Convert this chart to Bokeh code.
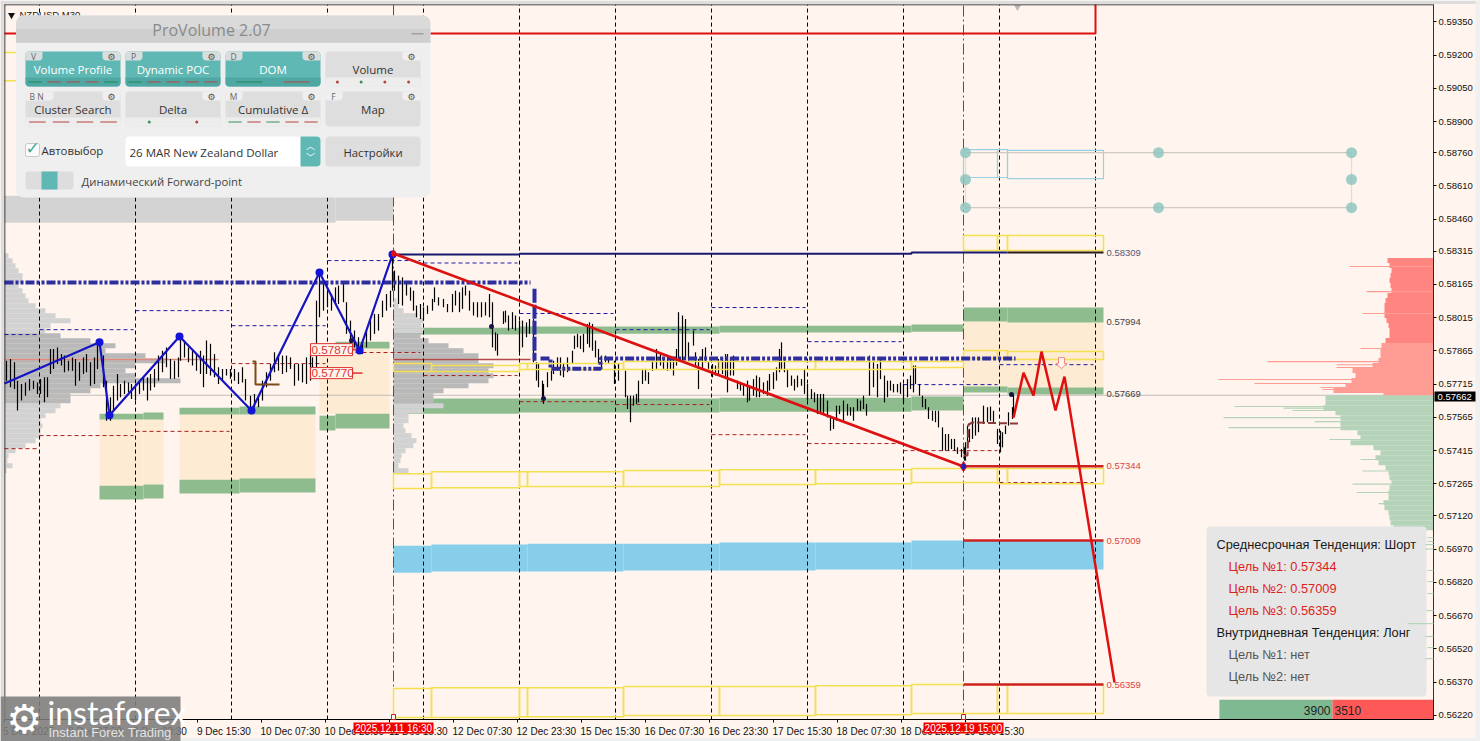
from bokeh.plotting import figure
from bokeh.models import Range1d, FixedTicker, NumeralTickFormatter, BoxAnnotation, Label
from bokeh.core.properties import value
from bokeh.embed import file_html
from bokeh.resources import INLINE
import numpy as np

# ---------- price axis / time axis
PRICE_TICKS = [0.59350,0.59200,0.59050,0.58900,0.58760,0.58610,0.58460,0.58315,0.58165,0.58015,0.57865,
               0.57715,0.57565,0.57415,0.57265,0.57120,0.56970,0.56820,0.56670,0.56520,0.56370,0.56220]
TIME_TICKS = [4,68,133,197,261,325,389,453,517,581,645,709,773,837,901,965]
TIME_LABELS = ["5 Dec 2025","8 Dec 07:30","8 Dec 23:30","9 Dec 15:30","10 Dec 07:30","10 Dec 23:30","11 Dec 15:30",
               "12 Dec 07:30","12 Dec 23:30","15 Dec 15:30","16 Dec 07:30","16 Dec 23:30","17 Dec 15:30",
               "18 Dec 07:30","18 Dec 23:30","19 Dec 15:30"]
DAY_LINES = [39,135,231,327,423,519,615,711,807,903,999,1095]

# ---------- price bars
BAR_POS = [6,10,14,17,21,25,29,33,37,40, 44,47,50,53,57,61,64,68,72,75, 79,83,86,90,94,97,103,106,110,113,
 117,120,124,128,131,135,139,143,147,150, 154,158,162,166,170,174,178,180,184,188, 192,196,200,203,206,210,214,218,222,226,
 230,234,238,242,245,250,254,258,262,266, 270,274,278,282,286,290,294,298,302,306, 310,312,316,319,323,327,331,335,338,343,
 346,350,354,358,362,366,370,374,378,382, 386,390,392,
 394,398,402,406,410,413,416,420,423,427, 432,434,438,443,447,452,455,459,462,465, 469,473,477,481,485,489,492,495,497,503,
 505,508,512,515,519,522,526,529,533,536, 538,542,543,547,551,553,557,560,563,567, 572,574,577,580,583,587,589,592,595,598,
 601,605,608,614,618,625,627,630,633,636, 638,642,645,648,652,656,660,663,667,670, 673,676,678,682,685,688,
 693,695,698,702,705,708,712,715,718,722, 725,727,730,733,737,740,743,747,749,753, 756,759,763,767,769,773,776,779,781,784,
 787,791,794,797,801,804,807,811,814,817, 820,823,827,830,833,836,839,843,847,850, 853,857,860,863,866,869,873,877,880,884,
 887,890,893,897,900,903,907,910,913,915, 919,922,925,928,932,935,938,942,945,948, 951,954,957,961,964,
 965,967,969,972,975,978,983,987,990,993, 997,1000,1002,1005,1008,1012,1013]
BAR_HIGH = [.57821,.57829,.57814,.57731,.57716,.57723,.57738,.57731,.57723,.57738,
 .57746,.57746,.57874,.57874,.57881,.57851,.57844,.57821,.57836,.57829,
 .57814,.57836,.57851,.57814,.57836,.57904,.57844,.57731,.57656,.57708,
 .57761,.57716,.57731,.57723,.57716,.57716,.57731,.57746,.57746,.57761,
 .57784,.57844,.57866,.57881,.57829,.57821,.57836,.57927,.57912,.57881,
 .57866,.57851,.57866,.57844,.57912,.57897,.57851,.57791,.57784,.57784,
 .57784,.57784,.57769,.57791,.57738,.57663,.57671,.57663,.57731,.57769,
 .57806,.57859,.57851,.57844,.57844,.57836,.57806,.57806,.57806,.57836,
 .57851,.57836,.58092,.58220,.58167,.58137,.58122,.58152,.58160,.58167,
 .58085,.58002,.57957,.57927,.57912,.57957,.58002,.58032,.58032,.58092,
 .58122,.58137,.58303,
 .58228,.58205,.58197,.58167,.58152,.58137,.58070,.58077,.58062,.58070,
 .58100,.58152,.58107,.58100,.58077,.58122,.58137,.58130,.58152,.58160,
 .58137,.58085,.58085,.58085,.58085,.58122,.58085,.57949,.57942,.58044,
 .58047,.58025,.58040,.58025,.58002,.58002,.57994,.58009,.58009,.57814,
 .57806,.57731,.57716,.57769,.57776,.57821,.57836,.57836,.57806,.57836,
 .57866,.57934,.57942,.57934,.57942,.57987,.57994,.57987,.57912,.57874,
 .57844,.57844,.57836,.57821,.57806,.57776,.57663,.57663,.57663,.57671,
 .57731,.57784,.57784,.57769,.57821,.57874,.57851,.57829,.57844,.57836,
 .57829,.57874,.58040,.58025,.58009,.57904,
 .57957,.57859,.57829,.57874,.57881,.57814,.57806,.57799,.57829,.57836,
 .57851,.57851,.57836,.57844,.57731,.57723,.57716,.57731,.57708,.57738,
 .57754,.57746,.57723,.57731,.57761,.57769,.57791,.57874,.57904,.57829,
 .57784,.57754,.57738,.57754,.57738,.57784,.57716,.57693,.57678,.57671,
 .57671,.57671,.57641,.57573,.57565,.57618,.57618,.57641,.57626,.57611,
 .57611,.57648,.57641,.57663,.57626,.57844,.57814,.57806,.57836,.57754,
 .57731,.57731,.57716,.57716,.57723,.57716,.57738,.57754,.57799,.57799,
 .57716,.57663,.57648,.57611,.57595,.57595,.57595,.57520,.57490,.57490,
 .57468,.57468,.57430,.57422,.57430,
 .57453,.57528,.57513,.57565,.57565,.57565,.57618,.57611,.57614,.57595,
 .57513,.57505,.57498,.57528,.57588,.57611,.57671]
BAR_LOW = [.57731,.57701,.57693,.57596,.57641,.57663,.57686,.57693,.57671,.57671,
 .57633,.57656,.57761,.57784,.57806,.57799,.57769,.57776,.57776,.57708,
 .57731,.57761,.57769,.57708,.57716,.57784,.57701,.57550,.57550,.57596,
 .57641,.57656,.57671,.57678,.57648,.57641,.57671,.57686,.57641,.57686,
 .57701,.57731,.57769,.57791,.57739,.57739,.57746,.57821,.57836,.57814,
 .57799,.57776,.57761,.57701,.57761,.57754,.57746,.57716,.57731,.57754,
 .57739,.57731,.57716,.57723,.57641,.57611,.57611,.57611,.57641,.57701,
 .57731,.57769,.57776,.57761,.57769,.57784,.57708,.57731,.57723,.57716,
 .57731,.57754,.57791,.58017,.58047,.58062,.58047,.58077,.58077,.58085,
 .57942,.57897,.57881,.57866,.57851,.57881,.57912,.57942,.57957,.58017,
 .58047,.58062,.58137,
 .58137,.58077,.58070,.58115,.58092,.58047,.58017,.58009,.58002,.58032,
 .58047,.58085,.58070,.58062,.58040,.58040,.58070,.58040,.58055,.58115,
 .58047,.58025,.58017,.58017,.58025,.58017,.57881,.57866,.57844,.57987,
 .57994,.57957,.57964,.57957,.57859,.57881,.57927,.57942,.57814,.57731,
 .57701,.57656,.57626,.57701,.57731,.57761,.57776,.57754,.57746,.57769,
 .57806,.57874,.57881,.57874,.57859,.57897,.57881,.57866,.57836,.57806,
 .57784,.57814,.57806,.57716,.57731,.57656,.57603,.57543,.57618,.57626,
 .57633,.57716,.57731,.57716,.57776,.57784,.57799,.57784,.57776,.57784,
 .57754,.57799,.57821,.57821,.57836,.57821,
 .57889,.57799,.57693,.57784,.57814,.57769,.57746,.57754,.57754,.57761,
 .57738,.57678,.57754,.57754,.57693,.57686,.57663,.57633,.57641,.57663,
 .57656,.57656,.57671,.57663,.57686,.57693,.57731,.57769,.57784,.57769,
 .57701,.57708,.57686,.57701,.57708,.57671,.57641,.57648,.57633,.57580,
 .57580,.57580,.57565,.57505,.57513,.57550,.57580,.57550,.57573,.57573,
 .57550,.57595,.57595,.57603,.57573,.57663,.57701,.57656,.57738,.57633,
 .57656,.57686,.57678,.57678,.57671,.57633,.57656,.57693,.57678,.57716,
 .57663,.57611,.57603,.57558,.57550,.57543,.57520,.57415,.57415,.57415,
 .57422,.57415,.57400,.57385,.57370,
 .57370,.57430,.57453,.57468,.57483,.57498,.57535,.57543,.57550,.57543,
 .57445,.57407,.57430,.57490,.57528,.57558,.57580]

# ---------- volume profiles (row volumes; rows are evenly spaced in price)
ROW_STEP = 0.0002257
PROFILE_A_TOP = 0.58295
PROFILE_A = [4,8,11,14,18,18,14,18,21,24,31,41,51,66,46,41,56,86,111,101,141,161,131,121,131,176,96,86,66,66,56,51,41,36,38,36,36,31,21,11,4,3,8,2]
PROFILE_B_TOP = 0.58092
PROFILE_B = [3,5,10,24,30,28,30,27,35,55,70,85,85,100,95,100,95,75,50,40,40,50,30,15,15,10,12,18,23,20,12,8,7,5,15]
ASK_TOP = 0.58273
ASK_VOLS = [46,44,42,43,44,43,42,46,48,49,49,49,47,45,44,44,48,52,53,53,55,61,81,78,82,88,100,50]
ASK_SPIKE_P = [.58246,.58133,.58034,.57876,.57817,.57803,.5779,.57736,.57718,.577,.57691]
ASK_SPIKE_V = [84,67,71,73,166,97,97,215,179,113,111]
BID_TOP = 0.57654
BID_VOLS = [108,108,110,98,93,93,93,76,73,83,60,53,58,55,48,45,44,42,44,45,45,50,49,45,44,43,40]
BID_SPIKE_P = [.57614,.57607,.57596,.57564,.57546,.57519,.57465,.57375,.57323,.57264,.57226,.57176]
BID_SPIKE_V = [199,150,141,210,119,205,104,73,71,81,77,55]
LOW_SPIKE_P = [.57022,.57005,.56991,.56971,.56874,.56824,.5677,.56693,.56634,.56576,.56526,.56476]
LOW_SPIKE_V = [6,6,8,8,6,6,6,7,26,8,6,8]
BID_TOTAL, ASK_TOTAL = 3900, 3510

# ---------- zones (left, right, top price, bottom price)
WHEAT = [(99,143,.57555,.57257),(143,163,.57560,.57262),(179,315,.57578,.57284),(319,389,.57876,.57582),(963,1103,.57998,.57700)]
GREEN = [(99,143,.57582,.57555),(143,163,.57587,.57555),(99,143,.57257,.57194),(143,163,.57262,.57199),
         (179,239,.57609,.57578),(239,315,.57614,.57578),(179,239,.57284,.57221),(239,315,.57289,.57226),
         (319,335,.57894,.57867),(335,389,.57907,.57876),(319,335,.57573,.57506),(335,389,.57582,.57515),
         (393,519,.57970,.57939),(519,719,.57975,.57943),(719,911,.57979,.57948),(911,963,.57984,.57952),
         (393,519,.57650,.57582),(519,719,.57650,.57587),(719,911,.57654,.57591),(911,963,.57659,.57596),
         (963,1007,.58061,.57998),(1007,1103,.58061,.57993),(963,1007,.57704,.57677),(1007,1103,.57700,.57668)]
SKY = [(393,431,.56986,.56864),(431,527,.56991,.56869),(527,623,.56995,.56869),(623,719,.56995,.56874),
       (719,815,.57000,.56874),(815,911,.57000,.56878),(911,1103,.57009,.56878)]
YELLOW = [(393,431,.57311,.57244),(431,519,.57320,.57248),(519,527,.57320,.57253),(527,623,.57320,.57253),(623,719,.57325,.57253),
          (719,815,.57329,.57262),(815,911,.57329,.57266),(911,997,.57334,.57271),(997,1007,.57334,.57266),(1007,1103,.57334,.57266),
          (393,431,.57808,.57772),(431,519,.57799,.57772),(519,527,.57808,.57781),(527,623,.57808,.57781),(623,719,.57817,.57781),
          (719,815,.57817,.57781),(815,911,.57817,.57781),(911,963,.57817,.57790),(963,997,.57867,.57831),(997,1007,.57867,.57831),(1007,1103,.57862,.57826),
          (963,997,.58386,.58318),(997,1007,.58386,.58318),(1007,1103,.58386,.58318),
          (393,431,.56341,.56210),(431,519,.56345,.56210),(519,527,.56345,.56214),(527,623,.56345,.56214),(623,719,.56350,.56219),
          (719,815,.56350,.56219),(815,911,.56354,.56223),(911,997,.56359,.56228),(997,1007,.56359,.56228),(1007,1103,.56359,.56228),
          (4,20,.59212,.59212),(4,20,.59085,.59085)]
BLUE_BOX = [(963,997,.58774,.58648),(997,1007,.58774,.58648),(1007,1103,.58770,.58643)]

# ---------- session high / low dashes (left, right, price)
HIGH_DASH = [(4,39,.57939),(39,133,.57961),(135,229,.58047),(231,325,.57979),(327,420,.58273),(423,517,.58262),(519,613,.58034),
             (615,709,.57961),(711,805,.58061),(807,901,.57907),(903,997,.57713),(999,1093,.57803)]
LOW_DASH = [(4,39,.57424),(39,133,.57483),(135,229,.57502),(231,325,.57808),(327,420,.57858),(423,517,.57754),(519,613,.57636),
            (615,709,.57623),(711,805,.57487),(807,901,.57447),(903,997,.57415),(999,1093,.57271)]

# ---------- swing lines
WAVE_X = [4,99,109,179,251,319,359,392]
WAVE_P = [.57718,.57904,.57575,.57930,.57596,.58219,.57867,.58300]
TREND_X = [393,963]
TREND_P = [.58305,.57343]
PATH_X = [1013,1023,1033,1041,1055,1064,1114]
PATH_P = [.57564,.57767,.57664,.57862,.57596,.57749,.56368]
TARGETS = [.57344,.57009,.56359]
LEVELS = [(.58309,"#555577"),(.57994,"#444444"),(.57669,"#444444")]

BG = "#FFF5EE"
FONT = "Liberation Sans"
UI = "Open Sans"

# chart pane limits inside the full page
x_lo, x_hi = 4, 1433
y_lo, y_hi = .56201, .59428

p = figure(width=1480, height=741, x_range=Range1d(0,1480), y_range=Range1d(.56102,.59447), y_axis_location="right",
           output_backend="svg", toolbar_location=None, min_border_left=0, min_border_top=0, min_border_right=0,
           min_border_bottom=0, background_fill_color=BG, border_fill_color=BG)
p.grid.visible = False
p.outline_line_color = None

ya = p.yaxis[0]
ya.fixed_location = x_hi
ya.ticker = FixedTicker(ticks=PRICE_TICKS)
ya.formatter = NumeralTickFormatter(format="0.00000")
ya.major_label_text_font = FONT
ya.major_label_text_font_size = "9.5px"
ya.major_label_text_color = "#111111"
ya.major_tick_out = 3; ya.major_tick_in = 0
ya.major_label_standoff = 2
ya.minor_tick_out = 0; ya.minor_tick_in = 0
ya.axis_line_color = None

centers = [t + 2.4*len(l) for t, l in zip(TIME_TICKS, TIME_LABELS)]
xa = p.xaxis[0]
xa.fixed_location = y_lo
xa.ticker = FixedTicker(ticks=centers, minor_ticks=TIME_TICKS)
xa.major_label_overrides = {c: l for c, l in zip(centers, TIME_LABELS)}
xa.major_label_text_font = FONT
xa.major_label_text_font_size = "10px"
xa.major_label_text_color = "#111111"
xa.major_tick_out = 0; xa.major_tick_in = 0
xa.minor_tick_out = 3; xa.minor_tick_in = 0
xa.major_label_standoff = 3
xa.axis_line_color = None

def quads(rows, **kw):
    a = np.array(rows, dtype=float)
    p.quad(left=a[:,0], right=a[:,1], top=a[:,2], bottom=a[:,3], **kw)

# gray top band behind panel
quads([(4,335,.58566,.58444),(335,393,.58566,.58453)], fill_color="#D3D3D3", line_color=None)

quads(WHEAT, fill_color="#FDEBD3", line_color=None)
quads(GREEN, fill_color="#8FBC8F", line_color=None)
quads(SKY, fill_color="#87CEEB", line_color=None)

# left profiles
def profile(start, top, vols):
    pr = top - ROW_STEP*np.arange(len(vols))
    v = np.array(vols, dtype=float)
    inner = (pr < .57935) & (pr > .57640)
    p.hbar(y=pr[~inner], left=start, right=start+v[~inner], height=ROW_STEP, fill_color="#D2D2D2", line_color=None)
    p.hbar(y=pr[inner], left=start, right=start+v[inner], height=ROW_STEP, fill_color="#B9B9B9", line_color=None)
profile(4, PROFILE_A_TOP, PROFILE_A)
profile(393, PROFILE_B_TOP, PROFILE_B)
p.segment(x0=[4], x1=[218], y0=[.57826], y1=[.57826], line_color="#E08A80", line_width=1.5)
p.segment(x0=[393], x1=[530], y0=[.57826], y1=[.57826], line_color="#B04A4A", line_width=1.5)

# current price
p.segment(x0=[x_lo], x1=[x_hi], y0=[.57665], y1=[.57665], line_color="#C4BDB8", line_width=1)

# order-book profile
ask_p = ASK_TOP - ROW_STEP*np.arange(len(ASK_VOLS))
bid_p = BID_TOP - ROW_STEP*np.arange(len(BID_VOLS))
a = np.array(ASK_VOLS, dtype=float)
top_part = ask_p > .57900
p.hbar(y=ask_p[top_part], left=x_hi-a[top_part], right=x_hi, height=ROW_STEP, fill_color="#FF8580", line_color=None)
p.hbar(y=ask_p[~top_part], left=x_hi-a[~top_part], right=x_hi, height=ROW_STEP, fill_color="#FF9C94", line_color=None)
p.hbar(y=ASK_SPIKE_P, left=x_hi-np.array(ASK_SPIKE_V), right=x_hi, height=.00005, fill_color="#FF9C94", line_color=None)
p.hbar(y=bid_p, left=x_hi-np.array(BID_VOLS), right=x_hi, height=ROW_STEP, fill_color="#B5D3B8", line_color=None)
p.hbar(y=BID_SPIKE_P, left=x_hi-np.array(BID_SPIKE_V), right=x_hi, height=.00005, fill_color="#B5D3B8", line_color=None)

# vertical day lines
p.segment(x0=DAY_LINES, x1=DAY_LINES, y0=y_lo, y1=y_hi, line_color="#000000", line_dash="4 3", line_width=1)
p.segment(x0=[393,963], x1=[393,963], y0=y_lo, y1=y_hi, line_color="#C8202A", line_dash="11 3 2 3", line_width=1)

# dashes
a = np.array(HIGH_DASH)
p.segment(x0=a[:,0], x1=a[:,1], y0=a[:,2], y1=a[:,2], line_color="#1A1AA6", line_dash="4 3", line_width=1)
a = np.array(LOW_DASH)
p.segment(x0=a[:,0], x1=a[:,1], y0=a[:,2], y1=a[:,2], line_color="#A82020", line_dash="4 3", line_width=1)

# bars
p.segment(x0=BAR_POS, x1=BAR_POS, y0=BAR_LOW, y1=BAR_HIGH, line_color="#000000", line_width=1.2)

# outlined boxes
quads(YELLOW, fill_color=None, line_color="#F5E050", line_width=1.5)
quads(BLUE_BOX, fill_color=None, line_color="#9AD0E2", line_width=1.2)

# top red frame
p.line([4,1095,1095],[.59298,.59298,y_hi], line_color="#E01010", line_width=2)
p.line([393,393],[.59298,y_hi], line_color="#C8202A", line_width=1, line_dash="4 3")
p.scatter([1017],[.59418], marker="inverted_triangle", size=7, fill_color="#BBBBBB", line_color=None)

# tool handles
p.line([965,1351],[.58760,.58760], line_color="#CFCAC5", line_width=1.3)
p.line([965,1351],[.58512,.58512], line_color="#CFCAC5", line_width=1.3)
p.line([965,965],[.58760,.58512], line_color="#E2DDD8", line_width=1.3)
p.line([1351,1351],[.58760,.58512], line_color="#E2DDD8", line_width=1.3)
p.scatter([965,965,965,1158,1158,1351,1351,1351],[.58760,.58639,.58512,.58760,.58512,.58760,.58639,.58512],
          size=11, fill_color="#8FC5BF", fill_alpha=.85, line_color=None)

# dynamic POC
poc = dict(line_color="#2E2E9E", line_width=4, line_dash="9 2 3 2 3 2")
p.line([4,530],[.58174,.58174], **poc)
p.line([534,534],[.58146,.57821], line_color="#2E2E9E", line_width=4, line_dash="14 2")
p.line([540,550,550,600,600,1015],[.57831,.57831,.57785,.57785,.57831,.57831], **poc)

# level lines
p.line([393,519,519,911,911,1007],[.58300,.58300,.58304,.58304,.58309,.58309], line_color="#191970", line_width=2)
p.line([1007,1103],[.58309,.58309], line_color="#2A1A1A", line_width=2)
p.segment(x0=[963]*3, x1=[1103]*3, y0=TARGETS, y1=TARGETS, line_color="#CC2222", line_width=2.5)

# waves
p.line(WAVE_X, WAVE_P, line_color="#1414C4", line_width=2.2)
p.scatter(WAVE_X[1:], WAVE_P[1:], size=8, fill_color="#1414D8", line_color=None)
p.line([252,255,255,279],[.57817,.57817,.57713,.57713], line_color="#7A4A1A", line_width=2)
p.line([963,967,968,972,1018],[.57393,.57393,.57533,.57542,.57537], line_color="#8B3A3A", line_width=2, line_dash="8 3")
p.scatter([491,543,351,1011],[.57975,.5765,.57912,.57668], size=5, fill_color="#15154A", line_color=None)

p.line(TREND_X, TREND_P, line_color="#DD1111", line_width=2.6)
p.scatter([393],[.58305], marker="diamond", size=9, fill_color="#E01010", line_color=None)
p.scatter([963],[.57343], marker="diamond", size=10, fill_color="#2020C0", line_color="#E01010")
p.line(PATH_X, PATH_P, line_color="#E01010", line_width=2.5)
p.patch([1058,1064,1064,1066.5,1061,1055.5,1058],[.57835,.57835,.57808,.57808,.57785,.57808,.57808],
        fill_color=BG, line_color="#F08A80", line_width=1)

# price boxes
quads([(310,352,.57898,.57844),(310,352,.57790,.57740)], fill_color=BG, line_color="#DD3333", line_width=1)
p.segment(x0=[352,352], x1=[356,362], y0=[.57871,.57765], y1=[.57871,.57765], line_color="#DD3333", line_width=1.5)
tf = value(FONT)
p.text([311,311],[.57871,.57765],text=["0.57870","0.57770"],text_font=tf,text_font_size="11.7px",text_color="#DD3333",text_baseline="middle")

# level texts
p.text([1106]*3,TARGETS,text=["%.5f"%t for t in TARGETS],text_font=tf,text_font_size="9.5px",text_color="#DD4444",text_baseline="middle")
p.text([1106]*3,[l[0] for l in LEVELS],text=["%.5f"%l[0] for l in LEVELS],text_font=tf,text_font_size="9.5px",text_color=[l[1] for l in LEVELS],text_baseline="middle")

# instrument label
p.scatter([11],[.59381],marker="inverted_triangle",size=7,fill_color="#111111",line_color=None)
p.text([19],[.59382],text=["NZDUSD,M30"],text_font=tf,text_font_size="9.5px",text_color="#222222",text_baseline="middle")

# bottom balance bar
bid_w = BID_TOTAL*0.029; ask_w = ASK_TOTAL*0.0289
p.quad(left=[1332-bid_w], right=[1332], top=[.56291], bottom=[y_lo], fill_color="#7EB991", line_color=None)
p.quad(left=[1332], right=[1332+ask_w], top=[.56291], bottom=[y_lo], fill_color="#FF5858", line_color=None)
p.text([1330],[.56243],text=[str(BID_TOTAL)],text_font=tf,text_font_size="12px",text_color="#222222",text_align="right",text_baseline="middle")
p.text([1334],[.56243],text=[str(ASK_TOTAL)],text_font=tf,text_font_size="12px",text_color="#222222",text_baseline="middle")

# ---------- canvas-space widgets
def box(l,t,r,b,color,radius=0,alpha=1.0,line=None,level="annotation"):
    p.add_layout(BoxAnnotation(left=l,right=r,top=t,bottom=b,left_units="canvas",right_units="canvas",top_units="canvas",
        bottom_units="canvas",fill_color=color,fill_alpha=alpha,line_color=line,line_alpha=1 if line else 0,border_radius=radius,level=level,editable=False))
def label(x,y,s,size=11.4,color="#333333",align="left",font=UI,style="normal"):
    p.add_layout(Label(x=x,y=y,x_units="canvas",y_units="canvas",text=s,text_font=font,text_font_size=f"{size}px",text_color=color,
        text_align=align,text_baseline="middle",text_font_style=style,level="annotation"))

# window strips and pane border
box(0,0,1480,3.5,"#DDDDDD"); box(0,0,3.5,741,"#DDDDDD"); box(1475,0,1480,741,"#F0F0F0"); box(0,737.5,1480,741,"#F0F0F0")
box(4,4,1433,4.8,"#111111"); box(4,4,4.8,719,"#111111"); box(4,718.6,1433,719.4,"#000000"); box(1432.6,4,1433.4,719,"#000000")

# time flags
box(353,722,433,733,"#F20000"); label(393,727.5,"2025.12.11 16:30",10,"#FFFFFF","center",FONT)
box(923,722,1003,733,"#F20000"); label(963,727.5,"2025.12.19 15:00",10,"#FFFFFF","center",FONT)
box(391,714,395,719,BG,line="#CC2020"); box(961,714,965,719,BG,line="#CC2020")

# info panel
box(1206,526,1426,696,"#E6E6E6",radius=4)
rows = [("Среднесрочная Тенденция: Шорт",1216,"#1A1A1A"),("Цель №1: 0.57344",1228,"#DD1F1F"),("Цель №2: 0.57009",1228,"#DD1F1F"),
        ("Цель №3: 0.56359",1228,"#DD1F1F"),("Внутридневная Тенденция: Лонг",1216,"#1A1A1A"),("Цель №1: нет",1228,"#555555"),("Цель №2: нет",1228,"#555555")]
for i,(s,x,c) in enumerate(rows):
    label(x,544+22*i,s,12.8,c,font=FONT)
p.hbar(y=LOW_SPIKE_P,left=x_hi-np.array(LOW_SPIKE_V),right=x_hi,height=.00005,fill_color="#B5D3B8",line_color=None,level="overlay")

# ProVolume panel
box(15.5,15,430,197,"#EFEFEF",radius=8)
box(15.5,15,430,28,"#DADADA",radius=(8,8,0,0)); box(15.5,28,430,41,"#CFCFCF")
box(15.5,41,430,42,"#BDBDBD")
label(211,29,"ProVolume 2.07",16,"#8A8A8A","center")
box(411,32.5,423,34,"#A0A0A0")
TEAL="#5FB8B4"; TEAL2="#4FA7A3"; G="#2E8B57"; R="#B5473F"
buttons = [
 (25,51,"Volume Profile",True,"V",list("grrrg"),"dash"),(125,51,"Dynamic POC",True,"P",list("grrrr"),"dash"),
 (225,51,"DOM",True,"D",list("gr"),"dash"),(325,51,"Volume",False,"",list("rgrr"),"dot"),
 (25,91,"Cluster Search",False,"B N",list("rrrr"),"dash"),(125,91,"Delta",False,"",list("gr"),"dot"),
 (225,91,"Cumulative Δ",False,"M",list("grgrr"),"dash"),(325,91,"Map",False,"F",[],"dash")]
for (x,y,name,on,key,marks,kind) in buttons:
    box(x,y,x+95,y+35,TEAL if on else "#DEDEDE",radius=4)
    if marks:
        box(x,y+26,x+95,y+35,TEAL2 if on else "#EDEDED",radius=(0,0,4,4))
        w=95/len(marks)
        for i,m in enumerate(marks):
            col = {"g":"#1F8A55" if on else "#3E8E5A","r":R}[m]
            cx=x+w*(i+.5)
            if kind=="dash":
                hw=min(w*.35,13)
                box(cx-hw,y+30,cx+hw,y+31,col)
            else:
                box(cx-1.5,y+29,cx+1.5,y+32,col,radius=2)
    box(x+77,y,x+95,y+9,"#D8DEDE" if on else "#EFEFEF",radius=(0,4,0,4))
    label(x+86,y+5,"⚙",9,"#555555","center","DejaVu Sans")
    if key:
        box(x,y,x+(len(key)+1)*5.5+6 if len(key)>1 else x+17,y+9,"#D8DEDE" if on else "#EFEFEF",radius=(4,0,4,0))
        label(x+8 if len(key)==1 else x+4,y+5,key,8.5,"#666666","center" if len(key)==1 else "left")
    label(x+47.5,y+18,name,11.5,"#FFFFFF" if on else "#333333","center")
box(25,143,39,156,"#FAFAFA",radius=2,line="#C8C8C8")
label(32,147,"✓",17,"#3FA9A4","center","DejaVu Sans")
label(41,150,"Автовыбор",11.4,"#333333")
box(125,136,320,166,"#FFFFFF",radius=4)
box(300,136,320,166,TEAL,radius=(0,4,4,0))
label(310,145,"︿",9,"#FFFFFF","center","Noto Sans CJK JP")
label(310,157,"﹀",9,"#FFFFFF","center","Noto Sans CJK JP")
label(129,152,"26 MAR New Zealand Dollar",11.5,"#333333")
box(325,136,420,166,"#DEDEDE",radius=4)
label(372.5,152,"Настройки",11.3,"#333333","center")
box(25,171,73,189,"#DDDDDD",radius=3); box(41,171,57,189,TEAL)
label(81,181,"Динамический Forward-point",11.3,"#444444")

# watermark
box(0,696,180,741,"#7C7C7C",alpha=.88)
label(24,718,"⚙",40,"#FFFFFF","center","DejaVu Sans")
label(47,712,"instaforex",32,"#FFFFFF","left","Lato")
label(48,732,"Instant Forex Trading",13,"#E4E4E4","left",FONT)

# current price flag
box(1434,391,1475,401,"#000000")
label(1437,396,"0.57662",9.5,"#FFFFFF","left",FONT)

open("out.html","w").write(file_html(p,INLINE))
